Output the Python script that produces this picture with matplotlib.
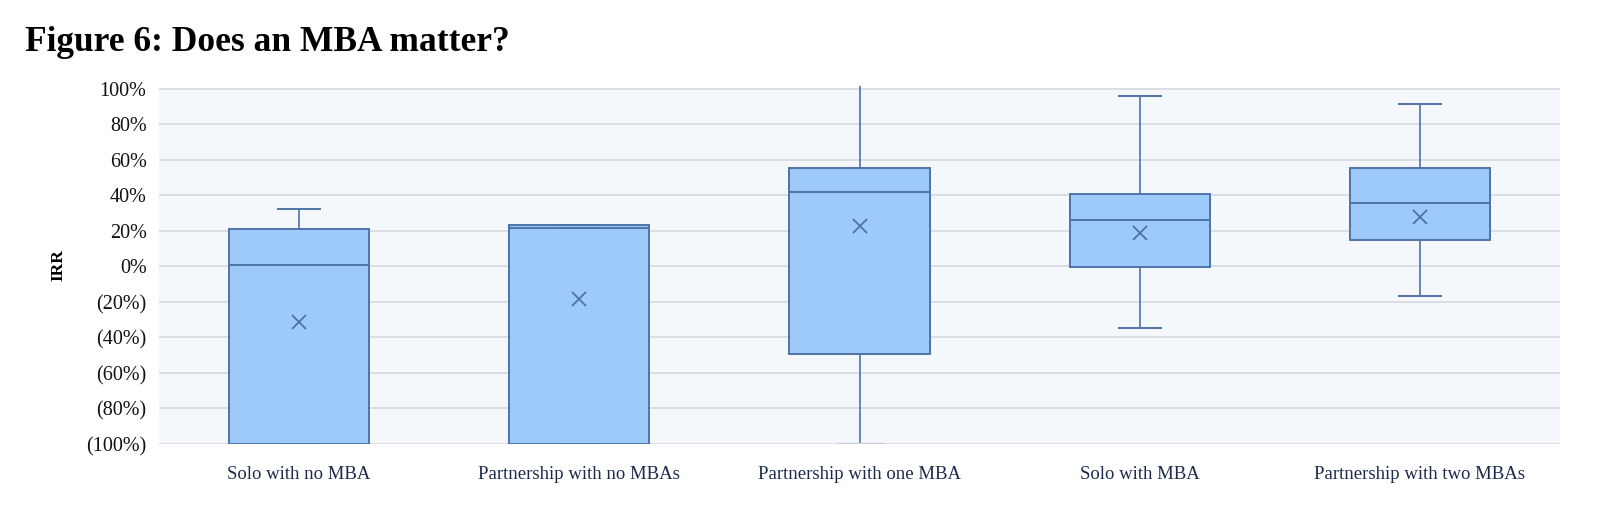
import matplotlib
matplotlib.use("Agg")
import matplotlib.pyplot as plt
from matplotlib.ticker import FuncFormatter

# values (IRR as fractions)
groups = ["Solo with no MBA", "Partnership with no MBAs", "Partnership with one MBA",
          "Solo with MBA", "Partnership with two MBAs"]
whisker_low = [-1.0, -1.0, -1.0, -0.346, -0.164]
q1 = [-1.0, -1.0, -0.491, -0.003, 0.150]
median = [0.006, 0.217, 0.418, 0.260, 0.356]
q3 = [0.212, 0.234, 0.555, 0.410, 0.555]
whisker_high = [0.325, 0.234, 1.10, 0.962, 0.915]
mean = [-0.315, -0.181, 0.230, 0.191, 0.277]
yticks = [-1.0, -0.8, -0.6, -0.4, -0.2, 0.0, 0.2, 0.4, 0.6, 0.8, 1.0]

fill = "#9DC9FB"
edge = "#4E73A6"
bg = "#F4F8FC"
grid = "#DADEE3"

plt.rcParams["font.family"] = ["Liberation Serif", "DejaVu Serif"]

fig = plt.figure(figsize=(16, 5.07), dpi=100)
ax = fig.add_axes([0.0994, 0.1243, 0.8756, 0.7055])

stats = []
for i, name in enumerate(groups):
    stats.append({"label": name, "whislo": whisker_low[i], "q1": q1[i], "med": median[i],
                  "q3": q3[i], "whishi": whisker_high[i], "mean": mean[i]})

ax.axhspan(-1.0, 1.0, color=bg, zorder=0, lw=0)
for t in yticks:
    ax.axhline(t, color=grid, lw=1.4, zorder=1)

parts = ax.bxp(stats, positions=range(len(groups)), widths=0.5, capwidths=0.15,
               patch_artist=True, showmeans=True, showfliers=False,
               boxprops=dict(facecolor=fill, edgecolor=edge, linewidth=1.4),
               medianprops=dict(color=edge, linewidth=1.4),
               whiskerprops=dict(color=edge, linewidth=1.2),
               capprops=dict(color=edge, linewidth=1.4),
               meanprops=dict(marker="x", markeredgecolor=edge, markersize=10, markeredgewidth=1.3),
               zorder=3)
# lower cap of the third box sits on the bottom edge and looks grey there
parts["caps"][4].set_color("#C9CED5")
parts["caps"][4].set_linewidth(2.5)

ax.set_xlim(-0.5, len(groups) - 0.5)
ax.set_ylim(-1.0, 1.015)
ax.set_yticks(yticks)


def pct(v, pos):
    p = int(round(v * 100))
    return f"({abs(p)}%)" if p < 0 else f"{p}%"


ax.yaxis.set_major_formatter(FuncFormatter(pct))
ax.tick_params(axis="y", length=0, pad=9, labelsize=14.5, labelcolor="#111111")
ax.tick_params(axis="x", length=0, pad=16, labelsize=13.5, labelcolor="#1B2B4B")
for s in ax.spines.values():
    s.set_visible(False)

ax.set_ylabel("IRR", fontsize=12.5, fontweight="bold")
ax.yaxis.set_label_coords(-0.066, 0.5)

fig.text(25 / 1600, 0.90, "Figure 6: Does an MBA matter?", fontsize=25.5,
         fontweight="bold", va="baseline", ha="left")

fig.savefig("out.png", dpi=100)
